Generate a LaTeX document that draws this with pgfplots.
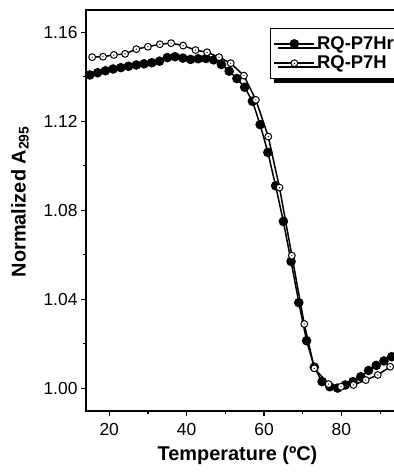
\documentclass[border=0pt]{standalone}
\usepackage{fontspec}
\setmainfont{Liberation Sans}
\usepackage{pgfplots}
\pgfplotsset{compat=1.18}
\pgfdeclareplotmark{odot}{%
  \pgfpathcircle{\pgfpointorigin}{\pgfplotmarksize}\pgfusepathqfillstroke
  \begin{pgfscope}\pgfsetfillcolor{black}%
  \pgfpathcircle{\pgfpointorigin}{0.7pt}\pgfusepathqfill\end{pgfscope}}
\begin{document}
\begin{tikzpicture}
\begin{axis}[
  at={(0,0)}, anchor=south west,
  scale only axis, width=315bp, height=401bp,
  xmin=14, xmax=95.4, ymin=0.9898, ymax=1.1700,
  xtick={20,40,60,80}, minor xtick={30,50,70,90},
  ytick={1.00,1.04,1.08,1.12,1.16}, minor ytick={1.02,1.06,1.10,1.14},
  yticklabel style={/pgf/number format/.cd, fixed, fixed zerofill, precision=2},
  /pgf/number format/assume math mode=true,
  tick label style={font=\fontsize{17.5}{17.5}\selectfont},
  xticklabel style={yshift=-4bp},
  tick align=outside, xtick pos=bottom, ytick pos=left,
  major tick length=5bp, minor tick length=3bp,
  axis line style={line width=1.3bp},
  every tick/.style={black, line width=1.2bp},
  xlabel={Temperature (ºC)},
  ylabel={Normalized A\textsubscript{295}},
  every axis x label/.style={at={(axis description cs:0.481,0)}, anchor=base, yshift=-49bp, font=\fontsize{20}{20}\selectfont\bfseries},
  every axis y label/.style={at={(axis description cs:-0.2095,0.522)}, anchor=center, rotate=90, font=\fontsize{20}{20}\selectfont\bfseries},
  legend style={at={(axis description cs:0.584,0.955)}, anchor=north west,
    draw=black, line width=1.3bp, fill=white,
    font=\bfseries\fontsize{18.5}{19}\selectfont,
    preaction={draw=black, fill=black, transform canvas={shift={(4bp,-4bp)}}},
    inner xsep=3bp, inner ysep=6bp, row sep=1bp, cells={anchor=west}},
  legend image code/.code={\draw[mark repeat=2,mark phase=2, line width=1.5bp] plot coordinates {(0bp,0bp)(20bp,0bp)(40bp,0bp)};},
]
\addplot[black, line width=1.5bp, mark=*, mark size=4bp, mark options={solid, fill=black}] coordinates {
(15,1.1408) (17,1.1418) (19,1.1427) (21,1.1435) (23,1.1441) (25,1.1447)
(27,1.1453) (29,1.1458) (31,1.1463) (33,1.1470) (35,1.1486) (37,1.1490)
(39,1.1484) (41,1.1478) (43,1.1481) (45,1.1482) (47,1.1476) (49,1.1455)
(51,1.1425) (53,1.1392) (55,1.1353) (57,1.1290) (59,1.1185) (61,1.1060)
(63,1.0910) (65,1.0750) (67,1.0570) (69,1.0385) (71,1.0214) (73,1.0095)
(75,1.0030) (77,1.0007) (79,1.0001) (81,1.0015) (83,1.0030) (85,1.0052)
(87,1.0080) (89,1.0103) (91,1.0123) (93,1.0142)
};
\addlegendentry{RQ-P7Hr}
\addplot[black, line width=1.5bp, mark=odot, mark size=3.4bp, mark options={solid, fill=white, line width=1bp}] coordinates {
(15.6,1.1488) (18.4,1.1490) (21.2,1.1498) (24.1,1.1503) (27.0,1.1524)
(30.0,1.1535) (33.1,1.1546) (36.0,1.1551) (39.1,1.1540) (42.3,1.1520)
(45.3,1.1510) (48.4,1.1488) (51.4,1.1461) (54.8,1.1405) (57.9,1.1296)
(61.1,1.1131) (64.0,1.0902) (67.2,1.0596) (70.4,1.0289) (73.0,1.0090)
(76.7,1.0019) (79.9,1.0007) (83.1,1.0015) (86.3,1.0037) (89.4,1.0060)
(92.6,1.0097)
};
\addlegendentry{RQ-P7H}
\end{axis}
\pgfresetboundingbox
\useasboundingbox (-86bp,-61bp) rectangle (308bp,411bp);
\end{tikzpicture}
\end{document}
